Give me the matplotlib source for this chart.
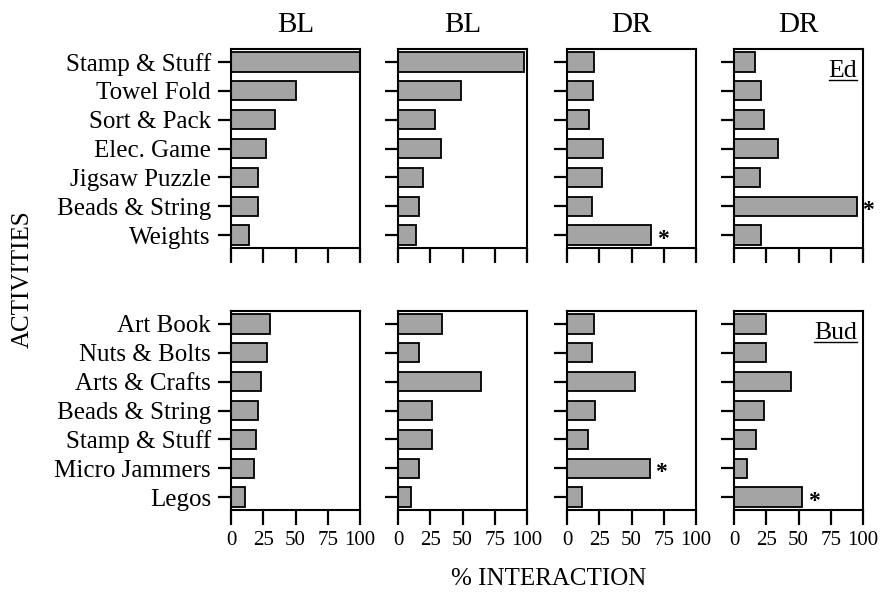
import numpy as np
import matplotlib.pyplot as plt
from matplotlib.lines import Line2D

plt.rcParams['font.family'] = ['Liberation Serif', 'DejaVu Serif']

# activities, listed top to bottom
ed_activities = ["Stamp & Stuff", "Towel Fold", "Sort & Pack", "Elec. Game",
                 "Jigsaw Puzzle", "Beads & String", "Weights"]
bud_activities = ["Art Book", "Nuts & Bolts", "Arts & Crafts", "Beads & String",
                  "Stamp & Stuff", "Micro Jammers", "Legos"]

phases = ["BL", "BL", "DR", "DR"]

# % interaction per phase (columns) for each activity
ed_values = [
    [100, 50, 34, 27, 21, 21, 14],
    [98, 49, 29, 33, 19, 16, 14],
    [21, 20, 17, 28, 27, 19, 65],
    [16, 21, 23, 34, 20, 95, 21],
]
bud_values = [
    [30, 28, 23, 21, 19, 18, 11],
    [34, 16, 64, 26, 26, 16, 10],
    [21, 19, 53, 22, 16, 64, 12],
    [25, 25, 44, 23, 17, 10, 53],
]

# starred bars: (column, activity index)
ed_stars = [(2, 6), (3, 5)]
bud_stars = [(2, 5), (3, 6)]

participants = ["Ed", "Bud"]
xticks = [0, 25, 50, 75, 100]

W, H = 881, 594
fig = plt.figure(figsize=(W / 100, H / 100), dpi=100)

col_left = [231, 398, 567, 734]
col_w = 129
row_top = [49, 311]
row_h = 199

rows = [(ed_activities, ed_values, ed_stars), (bud_activities, bud_values, bud_stars)]
axes = []
for r, (acts, vals, stars) in enumerate(rows):
    for c in range(4):
        ax = fig.add_axes([col_left[c] / W, 1 - (row_top[r] + row_h) / H,
                           col_w / W, row_h / H])
        axes.append(ax)
        y = np.arange(len(acts))
        ax.barh(y, vals[c], height=0.67, color='#a4a4a4', edgecolor='black',
                linewidth=1.3, zorder=2)
        ax.set_xlim(0, 100)
        ax.set_ylim(len(acts) - 0.55, -0.45)
        ax.set_xticks(xticks)
        ax.set_yticks(y)
        if c == 0:
            ax.set_yticklabels(acts, fontsize=18)
        else:
            ax.set_yticklabels([])
        if r == 1:
            ax.set_xticklabels([str(t) for t in xticks], fontsize=15)
        else:
            ax.set_xticklabels([])
            ax.set_title(phases[c], fontsize=21, pad=12)
        ax.tick_params(axis='x', direction='out', length=11, width=1.6, pad=4)
        ax.tick_params(axis='y', direction='out', length=9.5, width=1.6, pad=5)
        for s in ax.spines.values():
            s.set_linewidth(1.5)
        for (sc, si) in stars:
            if sc == c:
                ax.text(vals[c][si] + 9, si + 0.15, "*", fontsize=17,
                        fontweight='bold', ha='center', va='center', clip_on=False)

        if c == 3:
            ax.text(0.955, 0.945, participants[r], transform=ax.transAxes,
                    fontsize=18.5, ha='right', va='top')

fig.text(23 / W, 1 - 279 / H, "ACTIVITIES", rotation=90, fontsize=18,
         ha='center', va='center')
fig.text(549 / W, 1 - 579 / H, "% INTERACTION", fontsize=18,
         ha='center', va='center')

# underline the participant names
fig.canvas.draw()
renderer = fig.canvas.get_renderer()
for ax in (axes[3], axes[7]):
    txt = ax.texts[-1]
    bb = txt.get_window_extent(renderer)
    y0 = bb.y0 + 2
    fig.add_artist(Line2D([bb.x0 / W, bb.x1 / W], [y0 / H, y0 / H],
                          transform=fig.transFigure, color='black', linewidth=1.0))

fig.savefig("out.png", dpi=100)
